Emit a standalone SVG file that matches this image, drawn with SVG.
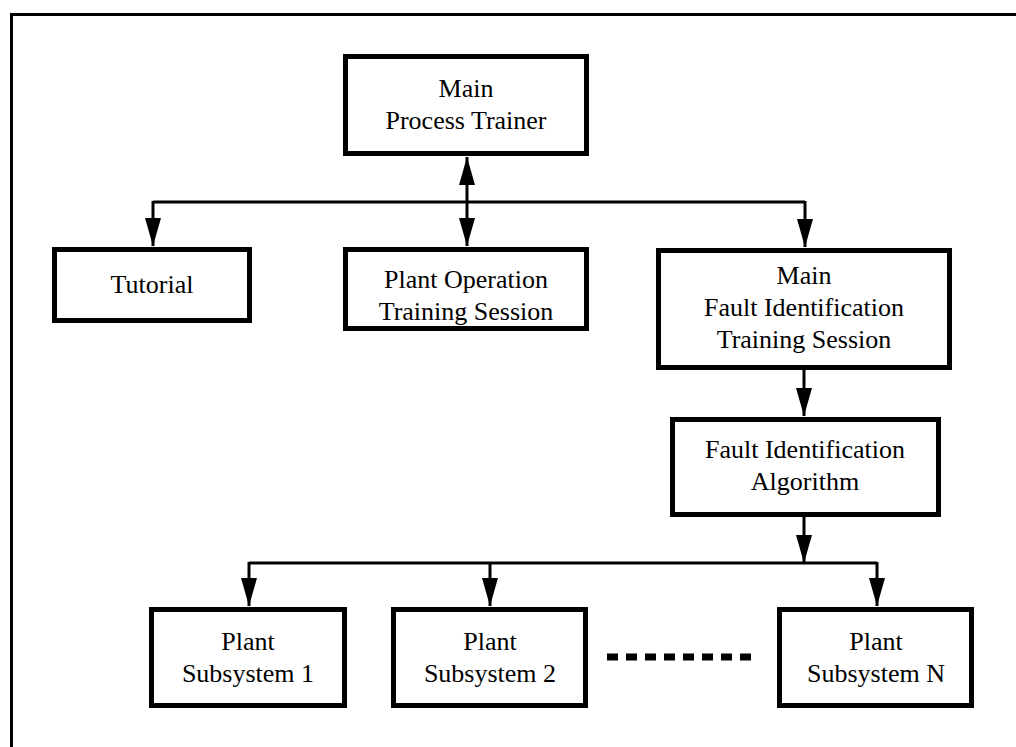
<svg xmlns="http://www.w3.org/2000/svg" width="1016" height="747" viewBox="0 0 1016 747">
<style>
.box{fill:#fff;stroke:#000;stroke-width:5}
.lbl{font-family:"Liberation Serif","Times New Roman",serif;font-size:26px;fill:#000;text-anchor:middle}
.con{fill:none;stroke:#000;stroke-width:3}
</style>
<defs>
<marker id="ah" markerUnits="userSpaceOnUse" viewBox="0 0 28 16" refX="28" refY="8" markerWidth="28" markerHeight="16" orient="auto-start-reverse">
<path d="M0,0 L28,8 L0,16 Z" fill="#000"/>
</marker>
</defs>
<rect x="0" y="0" width="1016" height="747" fill="#fff"/>
<rect id="frame" x="11.5" y="14.5" width="1030" height="760" fill="none" stroke="#000" stroke-width="3"/>
<g id="connectors">
<line class="con" x1="467" y1="157" x2="467" y2="246" marker-start="url(#ah)" marker-end="url(#ah)"/>
<line class="con" x1="153" y1="202" x2="805" y2="202"/>
<line class="con" x1="153" y1="201" x2="153" y2="246" marker-end="url(#ah)"/>
<line class="con" x1="805" y1="201" x2="805" y2="247" marker-end="url(#ah)"/>
<line class="con" x1="804" y1="370" x2="804" y2="416" marker-end="url(#ah)"/>
<line class="con" x1="804" y1="517" x2="804" y2="563" marker-end="url(#ah)"/>
<line class="con" x1="249" y1="563" x2="877" y2="563"/>
<line class="con" x1="249" y1="562" x2="249" y2="606" marker-end="url(#ah)"/>
<line class="con" x1="490" y1="562" x2="490" y2="606" marker-end="url(#ah)"/>
<line class="con" x1="877" y1="562" x2="877" y2="606" marker-end="url(#ah)"/>
<line x1="607" y1="657" x2="755" y2="657" stroke="#000" stroke-width="7" stroke-dasharray="11 8"/>
</g>
<g id="main-process-trainer">
<rect class="box" x="345.5" y="56.5" width="241" height="97"/>
<text class="lbl" x="466" y="97">Main</text>
<text class="lbl" x="466" y="129">Process Trainer</text>
</g>
<g id="tutorial">
<rect class="box" x="54.5" y="249.5" width="195" height="71"/>
<text class="lbl" x="152" y="293">Tutorial</text>
</g>
<g id="plant-operation">
<rect class="box" x="345.5" y="249.5" width="241" height="79"/>
<text class="lbl" x="466" y="288">Plant Operation</text>
<text class="lbl" x="466" y="320">Training Session</text>
</g>
<g id="main-fault-identification">
<rect class="box" x="658.5" y="250.5" width="291" height="117"/>
<text class="lbl" x="804" y="284">Main</text>
<text class="lbl" x="804" y="316">Fault Identification</text>
<text class="lbl" x="804" y="348">Training Session</text>
</g>
<g id="fault-identification-algorithm">
<rect class="box" x="672.5" y="419.5" width="266" height="95"/>
<text class="lbl" x="805" y="458">Fault Identification</text>
<text class="lbl" x="805" y="490">Algorithm</text>
</g>
<g id="plant-subsystem-1">
<rect class="box" x="151.5" y="609.5" width="193" height="96"/>
<text class="lbl" x="248" y="650">Plant</text>
<text class="lbl" x="248" y="682">Subsystem 1</text>
</g>
<g id="plant-subsystem-2">
<rect class="box" x="393.5" y="609.5" width="192" height="96"/>
<text class="lbl" x="490" y="650">Plant</text>
<text class="lbl" x="490" y="682">Subsystem 2</text>
</g>
<g id="plant-subsystem-n">
<rect class="box" x="779.5" y="609.5" width="192" height="96"/>
<text class="lbl" x="876" y="650">Plant</text>
<text class="lbl" x="876" y="682">Subsystem N</text>
</g>
</svg>
